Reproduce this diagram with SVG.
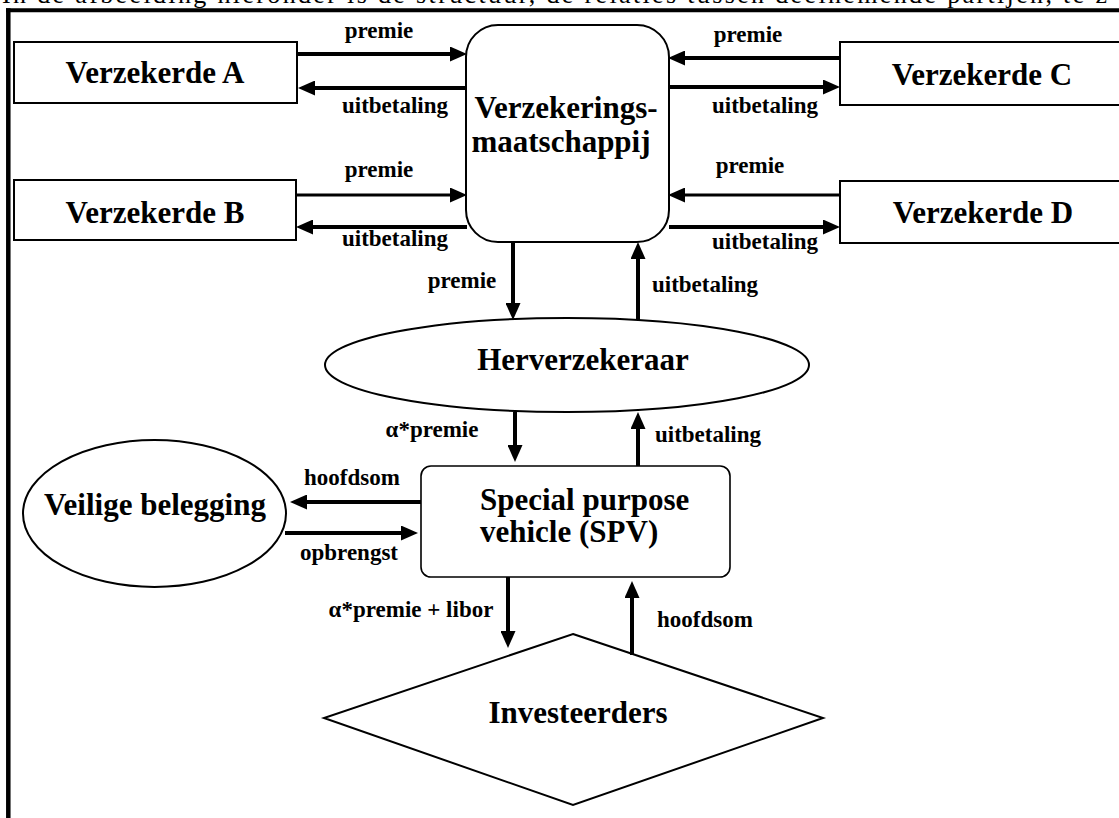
<svg xmlns="http://www.w3.org/2000/svg" width="1119" height="818" viewBox="0 0 1119 818">
<style>
  .box { fill: #fff; stroke: #000; stroke-width: 2; }
  .thin { fill: #fff; stroke: #000; stroke-width: 1.6; }
  .lbl { font-family: "Liberation Serif", "Times New Roman", serif; font-weight: bold; font-size: 23px; fill: #000; }
  .node { font-family: "Liberation Serif", "Times New Roman", serif; font-weight: bold; font-size: 31px; fill: #000; }
  .conn line { stroke: #000; stroke-width: 4; marker-end: url(#ah); }
  .conn line.t3 { stroke-width: 3; }
</style>
<defs>
  <marker id="ah" markerUnits="userSpaceOnUse" markerWidth="17" markerHeight="15" refX="7" refY="7.5" orient="auto">
    <path d="M0,0 L17,7.5 L0,15 z" fill="#000"/>
  </marker>
</defs>
<rect width="1119" height="818" fill="#fff"/>
<text x="2" y="3" font-family="Liberation Serif, serif" font-size="26" textLength="1105" lengthAdjust="spacing">In de afbeelding hieronder is de structuur, de relaties tussen deelnemende partijen, te z</text>
<g id="frame" stroke="#000" fill="none">
  <line x1="8.3" y1="8.3" x2="8.3" y2="818" stroke-width="4.5"/>
  <line x1="6" y1="10.3" x2="1119" y2="10.3" stroke-width="4"/>
</g>

<g id="verzekerde-a"><rect class="box" x="14" y="42" width="283" height="61"/><text class="node" x="155" y="83" text-anchor="middle">Verzekerde A</text></g>
<g id="verzekerde-b"><rect class="box" x="14" y="180" width="282" height="60"/><text class="node" x="155" y="223" text-anchor="middle">Verzekerde B</text></g>
<g id="verzekerde-c"><rect class="box" x="840" y="42" width="290" height="63"/><text class="node" x="982" y="85" text-anchor="middle">Verzekerde C</text></g>
<g id="verzekerde-d"><rect class="box" x="840" y="181" width="290" height="62"/><text class="node" x="983" y="223" text-anchor="middle">Verzekerde D</text></g>
<g id="maatschappij"><rect class="box" x="466" y="25" width="203" height="217" rx="32" ry="32"/>
  <text class="node" x="566" y="118" text-anchor="middle" font-size="30">Verzekerings-</text>
  <text class="node" x="561" y="152" text-anchor="middle" font-size="30">maatschappij</text></g>
<g id="herverzekeraar"><ellipse class="box" cx="567" cy="365" rx="242" ry="47"/><text class="node" x="583" y="370" text-anchor="middle">Herverzekeraar</text></g>
<g id="spv"><rect class="thin" x="421" y="466" width="309" height="111" rx="10" ry="10"/>
  <text class="node" x="480" y="510" font-size="28.5">Special purpose</text>
  <text class="node" x="480" y="542" font-size="28.5">vehicle (SPV)</text></g>
<g id="veilige-belegging"><ellipse class="box" cx="154.5" cy="513.5" rx="131.5" ry="73.5"/><text class="node" x="155" y="515" text-anchor="middle" font-size="28.5">Veilige belegging</text></g>
<g id="investeerders"><polygon class="box" points="573,634 823,718 573,805 324,718"/><text class="node" x="578" y="723" text-anchor="middle">Investeerders</text></g>

<g id="connectors" class="conn">
  <line x1="297" y1="54" x2="457" y2="54"/>
  <line x1="467" y1="88" x2="308" y2="88"/>
  <line class="t3" x1="296" y1="195" x2="457" y2="195"/>
  <line x1="467" y1="227" x2="306" y2="227"/>
  <line x1="840" y1="58" x2="678" y2="58"/>
  <line x1="669" y1="87" x2="830" y2="87"/>
  <line class="t3" x1="840" y1="195" x2="678" y2="195"/>
  <line x1="669" y1="227" x2="830" y2="227"/>
  <line x1="513" y1="242" x2="513" y2="310"/>
  <line x1="638" y1="320" x2="638" y2="252"/>
  <line x1="515" y1="412" x2="515" y2="452"/>
  <line x1="638" y1="466" x2="638" y2="422"/>
  <line x1="421" y1="502" x2="300" y2="502"/>
  <line x1="285" y1="533" x2="408" y2="533"/>
  <line x1="508" y1="577" x2="508" y2="638"/>
  <line x1="632" y1="655" x2="632" y2="591"/>
</g>

<g id="labels">
  <text class="lbl" x="379" y="38" text-anchor="middle">premie</text>
  <text class="lbl" x="395" y="113" text-anchor="middle">uitbetaling</text>
  <text class="lbl" x="379" y="177" text-anchor="middle">premie</text>
  <text class="lbl" x="395" y="246" text-anchor="middle">uitbetaling</text>
  <text class="lbl" x="748" y="42" text-anchor="middle">premie</text>
  <text class="lbl" x="765" y="113" text-anchor="middle">uitbetaling</text>
  <text class="lbl" x="750" y="173" text-anchor="middle">premie</text>
  <text class="lbl" x="765" y="249" text-anchor="middle">uitbetaling</text>
  <text class="lbl" x="462" y="288" text-anchor="middle">premie</text>
  <text class="lbl" x="705" y="292" text-anchor="middle">uitbetaling</text>
  <text class="lbl" x="432" y="437" text-anchor="middle">α*premie</text>
  <text class="lbl" x="708" y="442" text-anchor="middle">uitbetaling</text>
  <text class="lbl" x="352" y="485" text-anchor="middle">hoofdsom</text>
  <text class="lbl" x="349" y="560" text-anchor="middle">opbrengst</text>
  <text class="lbl" x="411" y="617" text-anchor="middle">α*premie + libor</text>
  <text class="lbl" x="705" y="627" text-anchor="middle">hoofdsom</text>
</g>
</svg>
